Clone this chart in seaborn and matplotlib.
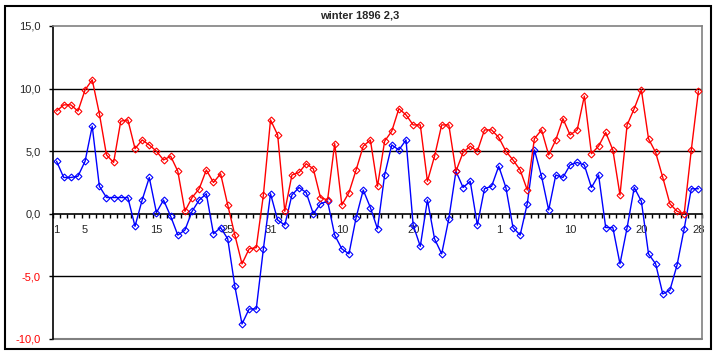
import numpy as np
import pandas as pd
import matplotlib
matplotlib.use('Agg')
import matplotlib.pyplot as plt
import seaborn as sns
from matplotlib.patches import Rectangle

# daily values, 1 Dec 1895 .. 29 Feb 1896
red = [8.2, 8.7, 8.7, 8.2, 9.9, 10.7, 8.0, 4.7, 4.1, 7.4,
       7.5, 5.2, 5.9, 5.5, 5.0, 4.3, 4.6, 3.4, 0.2, 1.3,
       2.0, 3.5, 2.5, 3.2, 0.7, -1.7, -4.0, -2.8, -2.7, 1.5,
       7.5, 6.3, 0.2, 3.1, 3.3, 4.0, 3.6, 1.3, 1.1, 5.6,
       0.7, 1.7, 3.5, 5.4, 5.9, 2.2, 5.8, 6.6, 8.4, 7.9,
       7.1, 7.1, 2.6, 4.6, 7.1, 7.1, 3.4, 4.9, 5.4, 5.0,
       6.7, 6.7, 6.1, 5.0, 4.3, 3.5, 1.9, 6.0, 6.7, 4.7,
       5.9, 7.6, 6.3, 6.7, 9.4, 4.8, 5.4, 6.5, 5.1, 1.5,
       7.1, 8.4, 9.9, 6.0, 4.9, 2.9, 0.8, 0.2, 0.0, 5.1,
       9.8]
blue = [4.2, 2.9, 2.9, 3.0, 4.2, 7.0, 2.2, 1.3, 1.3, 1.3,
        1.3, -1.0, 1.1, 2.9, 0.1, 1.1, -0.2, -1.7, -1.3, 0.2,
        1.1, 1.6, -1.6, -1.1, -2.0, -5.8, -8.8, -7.6, -7.6, -2.8,
        1.6, -0.5, -0.9, 1.5, 2.1, 1.7, 0.0, 0.8, 1.0, -1.7,
        -2.8, -3.2, -0.3, 1.9, 0.5, -1.2, 3.1, 5.5, 5.1, 5.9,
        -0.9, -2.6, 1.1, -2.0, -3.2, -0.4, 3.4, 2.1, 2.6, -0.9,
        2.0, 2.2, 3.8, 2.1, -1.1, -1.7, 0.8, 5.1, 3.0, 0.3,
        3.1, 2.9, 3.9, 4.1, 3.9, 2.1, 3.1, -1.1, -1.1, -4.0,
        -1.1, 2.1, 1.0, -3.2, -4.0, -6.4, -6.1, -4.1, -1.2, 2.0,
        2.0]
tick_idx = [0, 4, 14, 24, 30, 40, 50, 62, 72, 82, 90]
tick_txt = ['1', '5', '15', '25', '31', '10', '20', '1', '10', '20', '28']
y_ticks = [-10, -5, 0, 5, 10, 15]
title = 'winter 1896 2,3'

df = pd.DataFrame({'day': np.arange(len(red)), 'red': red, 'blue': blue})

sns.set_style('white')
plt.rcParams['font.family'] = ['Liberation Sans', 'DejaVu Sans']

fig = plt.figure(figsize=(7.18, 3.55), dpi=100)
ax = fig.add_axes([53 / 718, 16 / 355, 649 / 718, 313 / 355])

for h in [10, 5, -5]:
    ax.axhline(h, color='black', lw=1, zorder=1)
ax.axhline(-10, color='#808080', lw=1.5, clip_on=False, zorder=1)

sns.lineplot(data=df, x='day', y='blue', color='#0000ff', lw=1, marker='D',
             markersize=3.5, markerfacecolor='none', markeredgecolor='#0000ff',
             markeredgewidth=0.8, ax=ax, zorder=3)
sns.lineplot(data=df, x='day', y='red', color='#ff0000', lw=1, marker='D',
             markersize=3.5, markerfacecolor='none', markeredgecolor='#ff0000',
             markeredgewidth=0.8, ax=ax, zorder=4)

ax.set_xlim(-0.5, len(red) - 0.5)
ax.set_ylim(-10, 15)
ax.set_xlabel('')
ax.set_ylabel('')

ax.spines['bottom'].set_position(('data', 0))
ax.spines['bottom'].set_color('black')
ax.spines['left'].set_color('black')
ax.spines['top'].set_color('#808080')
ax.spines['right'].set_color('#808080')
for s in ax.spines.values():
    s.set_linewidth(1.2)

ax.set_xticks(tick_idx, tick_txt)
ax.set_xticks(np.arange(-0.5, len(red), 1), minor=True)
ax.tick_params(axis='x', which='major', bottom=True, length=0, pad=8, labelsize=8)
ax.tick_params(axis='x', which='minor', bottom=True, length=3, width=1, color='black')

ax.set_yticks(y_ticks, [f'{v:.1f}'.replace('.', ',') for v in y_ticks])
ax.tick_params(axis='y', left=True, length=3, width=1, color='black', pad=6, labelsize=8)
for t, v in zip(ax.get_yticklabels(), y_ticks):
    if v < 0:
        t.set_color('#ff0000')

fig.text(360 / 718, 1 - 15 / 355, title, ha='center', va='center',
         fontsize=8, fontweight='bold')
fig.add_artist(Rectangle((5 / 718, 6 / 355), 706 / 718, 343 / 355,
                         transform=fig.transFigure, fill=False,
                         edgecolor='black', lw=1.5))

fig.savefig('out.png', dpi=100)
